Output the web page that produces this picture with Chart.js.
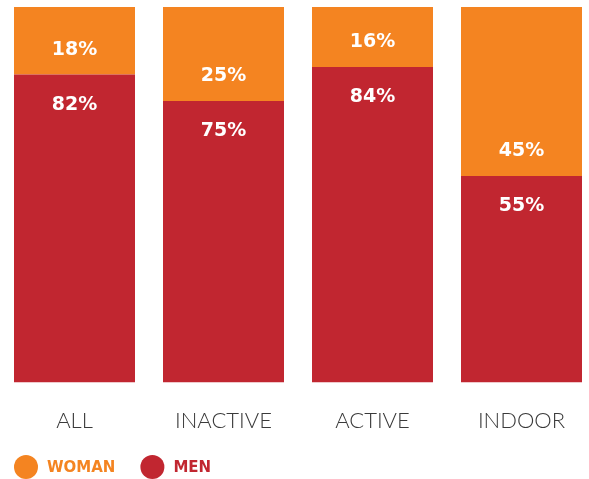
<!DOCTYPE html>
<html lang="en">
<head>
    <meta charset="UTF-8">
    <title>Woman / Men share</title>
    <script src="https://cdn.jsdelivr.net/npm/chart.js"></script>
    <style>
        html,
        body {
            margin: 0;
            width: 589px;
            height: 479px;
            overflow: hidden;
            background: #fff;
        }

        #wrap {
            width: 596px;
            height: 479px;
        }
    </style>
</head>
<body>
    <div id="wrap">
        <canvas id="shareChart"></canvas>
    </div>

    <script>
        const categories = ['ALL', 'INACTIVE', 'ACTIVE', 'INDOOR'];
        const womanValues = [18, 25, 16, 45];
        const menValues = [82, 75, 84, 55];

        const ORANGE = '#F48421';
        const RED = '#C12630';

        // percent labels inside the bars, near the woman/men boundary
        const barLabels = {
            id: 'barLabels',
            afterDatasetsDraw(chart) {
                const ctx = chart.ctx;
                ctx.save();
                ctx.fillStyle = '#fff';
                ctx.font = 'bold 19px "DejaVu Sans", sans-serif';
                ctx.textAlign = 'center';
                ctx.textBaseline = 'middle';
                const men = chart.getDatasetMeta(0).data;
                const woman = chart.getDatasetMeta(1).data;
                men.forEach((bar, i) => {
                    const boundary = bar.y;
                    ctx.fillText(menValues[i] + '%', bar.x, boundary + 30);
                    ctx.fillText(womanValues[i] + '%', woman[i].x, boundary - 25);
                });
                ctx.restore();
            }
        };

        // legend with large dots, woman first
        const dotLegend = {
            id: 'dotLegend',
            afterDraw(chart) {
                const ctx = chart.ctx;
                ctx.save();
                ctx.font = 'bold 15px "DejaVu Sans", sans-serif';
                ctx.textBaseline = 'middle';
                const y = 467;
                let x = 14;
                [1, 0].forEach(idx => {
                    const ds = chart.data.datasets[idx];
                    ctx.fillStyle = ds.backgroundColor;
                    ctx.beginPath();
                    ctx.arc(x + 12, y, 12, 0, Math.PI * 2);
                    ctx.fill();
                    ctx.fillText(ds.label, x + 33, y + 1);
                    x += 33 + ctx.measureText(ds.label).width + 25;
                });
                ctx.restore();
            }
        };

        const ctx = document.getElementById('shareChart').getContext('2d');
        new Chart(ctx, {
            type: 'bar',
            data: {
                labels: categories,
                datasets: [{
                    label: 'MEN',
                    data: menValues,
                    backgroundColor: RED
                }, {
                    label: 'WOMAN',
                    data: womanValues,
                    backgroundColor: ORANGE
                }]
            },
            options: {
                responsive: true,
                maintainAspectRatio: false,
                animation: false,
                layout: {
                    padding: { top: 7, bottom: 28, left: 0, right: 0 }
                },
                datasets: {
                    bar: {
                        categoryPercentage: 1,
                        barPercentage: 121 / 149
                    }
                },
                scales: {
                    x: {
                        stacked: true,
                        grid: { display: false },
                        border: { display: false },
                        ticks: {
                            color: '#3a3a3a',
                            padding: 17,
                            font: { family: 'Lato', size: 22, weight: 300 }
                        }
                    },
                    y: {
                        stacked: true,
                        display: false,
                        min: 0,
                        max: 100
                    }
                },
                plugins: {
                    legend: { display: false },
                    tooltip: { enabled: false }
                }
            },
            plugins: [barLabels, dotLegend]
        });
    </script>
</body>
</html>
